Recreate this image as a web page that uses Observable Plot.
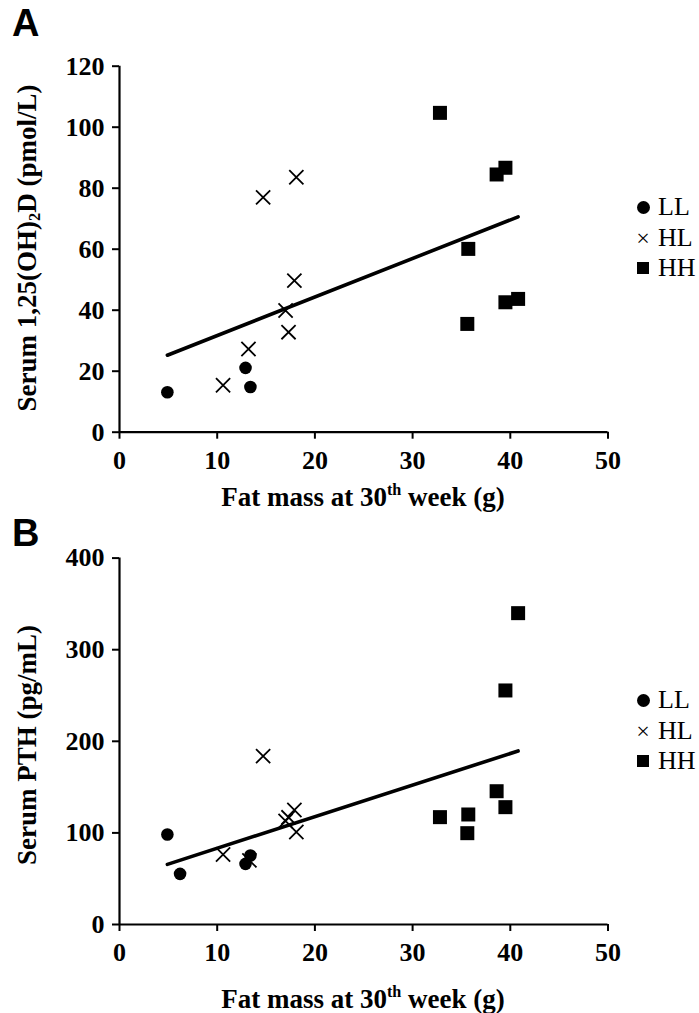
<!DOCTYPE html>
<html>
<head>
<meta charset="utf-8">
<script src="https://cdn.jsdelivr.net/npm/d3@7"></script>
<script src="https://cdn.jsdelivr.net/npm/@observablehq/plot@0.6"></script>
<style>
  html, body { margin: 0; padding: 0; background: #fff; }
  #wrap { position: relative; width: 699px; height: 1013px; overflow: hidden; background: #fff; }
  .plot { position: absolute; left: 0; }
  .serif { font-family: "Liberation Serif", "Times New Roman", serif; color: #000; }
  .title { position: absolute; font-weight: bold; font-size: 27px; white-space: nowrap; line-height: 1; }
  .ytitle { transform: translate(-50%, -50%) rotate(-90deg); }
  .xtitle { transform: translate(-50%, -50%); }
  .panel { position: absolute; font-family: "Liberation Sans", Arial, sans-serif; font-weight: bold; font-size: 38px; line-height: 1; }
  .leg { position: absolute; display: flex; align-items: center; height: 30px; font-size: 26px; white-space: nowrap; }
  .sym { width: 20px; display: flex; justify-content: center; align-items: center; }
  .dotc { width: 13px; height: 13px; border-radius: 50%; background: #000; }
  .sq { width: 12px; height: 12px; background: #000; }
  .tx { font-size: 24px; line-height: 1; }
  .lab { margin-left: 5px; }
  sup { font-size: 0.6em; vertical-align: 0.65em; line-height: 0; }
  sub { font-size: 0.6em; vertical-align: -0.25em; line-height: 0; }
</style>
</head>
<body>
<div id="wrap"></div>
<script>
// ---- data ----
const groups = ["LL", "HL", "HH"];
const xTicks = [0, 10, 20, 30, 40, 50];
const yTicksA = [0, 20, 40, 60, 80, 100, 120];
const yTicksB = [0, 100, 200, 300, 400];

// Panel A: fat mass (g) vs serum 1,25(OH)2D (pmol/L)
const fatA_LL = [4.9, 12.9, 13.4];
const vitD_LL = [13.1, 21.1, 14.8];
const fatA_HL = [10.6, 13.2, 14.7, 18.1, 17.9, 17.0, 17.3];
const vitD_HL = [15.4, 27.3, 77.0, 83.6, 49.7, 39.9, 32.8];
const fatA_HH = [32.8, 39.5, 38.6, 35.7, 40.8, 39.5, 35.6];
const vitD_HH = [104.7, 86.7, 84.5, 60.1, 43.7, 42.6, 35.5];

// Panel B: fat mass (g) vs serum PTH (pg/mL)
const fatB_LL = [4.9, 6.2, 12.9, 13.4];
const pth_LL = [98.3, 55.3, 66.2, 75.3];
const fatB_HL = [10.6, 13.3, 14.7, 17.0, 17.3, 17.9, 18.1];
const pth_HL = [76.4, 70.0, 183.8, 113.0, 117.0, 125.0, 101.0];
const fatB_HH = [32.8, 38.6, 39.5, 35.7, 40.8, 39.5, 35.6];
const pth_HH = [117.2, 145.5, 255.5, 120.1, 339.9, 128.1, 99.7];

// ---- build tables ----
function rows(xs, ys, g) { return xs.map((x, i) => ({x, y: ys[i], g})); }
const dataA = [...rows(fatA_LL, vitD_LL, "LL"), ...rows(fatA_HL, vitD_HL, "HL"), ...rows(fatA_HH, vitD_HH, "HH")];
const dataB = [...rows(fatB_LL, pth_LL, "LL"), ...rows(fatB_HL, pth_HL, "HL"), ...rows(fatB_HH, pth_HH, "HH")];

const FONT = '"Liberation Serif", "Times New Roman", serif';

function panel(data, yDomain, yTicks, opts) {
  return Plot.plot({
    width: 699,
    height: opts.height,
    marginLeft: 119,
    marginRight: 91.5,
    marginTop: opts.marginTop,
    marginBottom: opts.marginBottom,
    style: {fontFamily: FONT, fontSize: "26px", fontWeight: "bold", background: "#fff", color: "#000", overflow: "visible"},
    x: {domain: [0, 50]},
    y: {domain: yDomain},
    marks: [
      Plot.axisX({ticks: xTicks, tickSize: 7, tickPadding: 11, strokeWidth: 2, label: null, tickFormat: d => String(d)}),
      Plot.axisY({ticks: yTicks, tickSize: 7, tickPadding: 8, strokeWidth: 2, label: null, tickFormat: d => String(d)}),
      Plot.ruleY([yDomain[0]], {strokeWidth: 2.2}),
      Plot.ruleX([0], {strokeWidth: 2.2}),
      Plot.linearRegressionY(data, {x: "x", y: "y", stroke: "#000", strokeWidth: 3.6, ci: 0}),
      Plot.dot(data.filter(d => d.g === "HH"), {x: "x", y: "y", symbol: "square", r: 7.9, fill: "#000", stroke: null}),
      Plot.dot(data.filter(d => d.g === "HL"), {x: "x", y: "y", symbol: "times", r: 6.5, stroke: "#000", strokeWidth: 1.8, fill: "none"}),
      Plot.dot(data.filter(d => d.g === "LL"), {x: "x", y: "y", symbol: "circle", r: 6.3, fill: "#000", stroke: null})
    ]
  });
}

const wrap = document.getElementById("wrap");

const HA = 520;
const plotA = panel(dataA, [0, 120], yTicksA, {height: HA, marginTop: 65.7, marginBottom: HA - 431.7});
plotA.classList.add("plot");
plotA.style.top = "0px";
wrap.appendChild(plotA);

const HB = 1013 - HA;
const plotB = panel(dataB, [0, 400], yTicksB, {height: HB, marginTop: 557.6 - HA, marginBottom: HB - (924 - HA)});
plotB.classList.add("plot");
plotB.style.top = HA + "px";
wrap.appendChild(plotB);

function addHTML(html, cls, style) {
  const el = document.createElement("div");
  el.className = cls;
  el.innerHTML = html;
  Object.assign(el.style, style);
  wrap.appendChild(el);
  return el;
}

// panel letters
addHTML("A", "panel", {left: "12px", top: "4px"});
addHTML("B", "panel", {left: "12px", top: "514px"});

// axis titles
const xTitle = "Fat mass at 30<sup>th</sup> week (g)";
addHTML(xTitle, "title serif xtitle", {left: "363px", top: "497px"});
addHTML(xTitle, "title serif xtitle", {left: "363px", top: "999px"});
addHTML("Serum 1,25(OH)<sub>2</sub>D (pmol/L)", "title serif ytitle", {left: "27px", top: "248px"});
addHTML("Serum PTH (pg/mL)", "title serif ytitle", {left: "27px", top: "745px"});

// legends
const symHTML = {LL: '<div class="dotc"></div>', HL: '<span class="tx">\u00d7</span>', HH: '<div class="sq"></div>'};
function legend(y0) {
  groups.forEach((g, i) => {
    addHTML(`<span class="sym">${symHTML[g]}</span><span class="lab">${g}</span>`, "leg serif", {left: "633px", top: (y0 + i * 30.7 - 15) + "px"});
  });
}
legend(207);
legend(700);
</script>
</body>
</html>
